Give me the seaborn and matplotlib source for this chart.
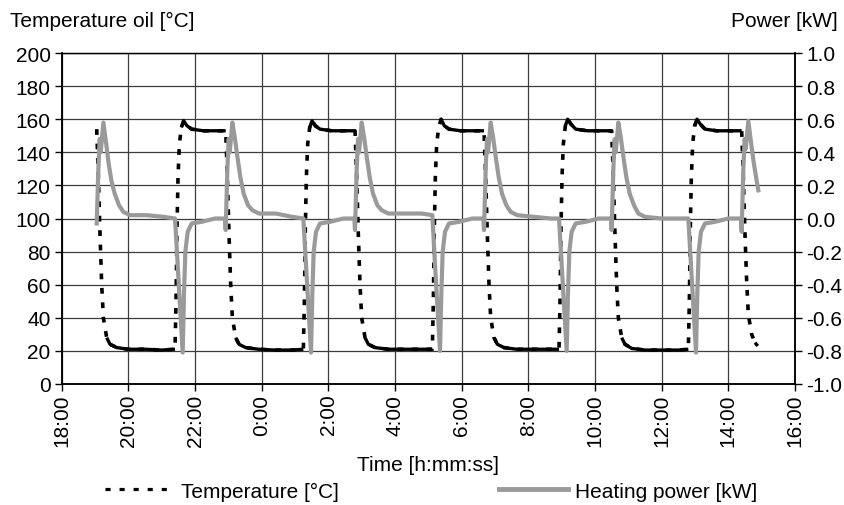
import numpy as np
import pandas as pd
import matplotlib
matplotlib.use('Agg')
import matplotlib.pyplot as plt
import seaborn as sns
from matplotlib.lines import Line2D

# ------------------------------
# Data (hours counted from midnight of day 1, so 0:00 next day = 24)
# ------------------------------
temp_time = [
    19.05, 19.10, 19.15, 19.20, 19.25, 19.35, 19.45, 19.65, 20.00, 20.50, 21.00, 21.40,
    21.43, 21.46, 21.49, 21.53, 21.59, 21.66, 21.76, 21.90, 22.25, 22.60, 22.92,
    22.97, 23.02, 23.07, 23.12, 23.22, 23.32, 23.52, 23.90, 24.40, 24.90, 25.25,
    25.28, 25.31, 25.34, 25.38, 25.44, 25.51, 25.61, 25.75, 26.10, 26.45, 26.80,
    26.85, 26.90, 26.95, 27.00, 27.10, 27.20, 27.40, 27.80, 28.30, 28.80, 29.12,
    29.15, 29.18, 29.21, 29.25, 29.31, 29.38, 29.48, 29.62, 29.97, 30.32, 30.67,
    30.72, 30.77, 30.82, 30.87, 30.97, 31.07, 31.27, 31.65, 32.15, 32.60, 32.92,
    32.95, 32.98, 33.01, 33.05, 33.11, 33.18, 33.28, 33.42, 33.77, 34.12, 34.50,
    34.55, 34.60, 34.65, 34.70, 34.80, 34.90, 35.10, 35.50, 36.00, 36.50, 36.80,
    36.83, 36.86, 36.89, 36.93, 36.99, 37.06, 37.16, 37.30, 37.65, 38.00, 38.40,
    38.45, 38.50, 38.55, 38.60, 38.70, 38.80, 38.88,
]
temp_values = [
    154, 125, 90, 60, 40, 28, 24, 22, 21, 21, 20.5, 21,
    50, 95, 125, 145, 155, 159, 156, 154, 153, 153, 153,
    125, 90, 60, 40, 28, 24, 22, 21, 20.5, 20.5, 21,
    50, 95, 125, 145, 155, 159, 156, 154, 153, 153, 153,
    125, 90, 60, 40, 28, 24, 22, 21, 21, 21, 21,
    50, 95, 125, 145, 155, 160, 156, 154, 153, 153, 153,
    125, 90, 60, 40, 28, 24, 22, 21, 21, 21, 21,
    50, 95, 125, 145, 156, 160, 157, 154, 153, 153, 153,
    125, 90, 60, 40, 28, 24, 21.5, 20.5, 20.5, 20.5, 21,
    50, 95, 125, 145, 156, 160, 157, 154, 153, 153, 153,
    125, 90, 62, 42, 30, 25, 23,
]

power_time = [
    19.05, 19.10, 19.14, 19.17, 19.25, 19.33, 19.41, 19.49, 19.59, 19.72, 19.85, 20.05, 20.55, 21.05,
    21.40, 21.48, 21.56, 21.63, 21.67, 21.71, 21.78, 21.90, 22.20, 22.60, 22.90,
    22.92, 22.97, 23.01, 23.04, 23.12, 23.20, 23.28, 23.36, 23.46, 23.59, 23.72, 23.92, 24.42, 24.92,
    25.25, 25.33, 25.41, 25.48, 25.52, 25.56, 25.63, 25.75, 26.05, 26.45, 26.78,
    26.80, 26.85, 26.89, 26.92, 27.00, 27.08, 27.16, 27.24, 27.34, 27.47, 27.60, 27.80, 28.30, 28.80,
    29.12, 29.20, 29.28, 29.35, 29.39, 29.43, 29.50, 29.62, 29.92, 30.32, 30.65,
    30.67, 30.72, 30.76, 30.79, 30.87, 30.95, 31.03, 31.11, 31.21, 31.34, 31.47, 31.67, 32.17, 32.67,
    32.92, 33.00, 33.08, 33.15, 33.19, 33.23, 33.30, 33.42, 33.72, 34.12, 34.48,
    34.50, 34.55, 34.59, 34.62, 34.70, 34.78, 34.86, 34.94, 35.04, 35.17, 35.30, 35.50, 36.00, 36.50,
    36.80, 36.88, 36.96, 37.03, 37.07, 37.11, 37.18, 37.30, 37.60, 38.00, 38.38,
    38.40, 38.45, 38.49, 38.52, 38.60, 38.68, 38.76, 38.84, 38.90,
]
power_values = [
    -0.03, 0.30, 0.48, 0.40, 0.58, 0.46, 0.33, 0.23, 0.15, 0.08, 0.04, 0.02, 0.02, 0.01,
    0.00, -0.28, -0.56, -0.81, -0.45, -0.20, -0.08, -0.03, -0.02, 0.00, 0.00,
    -0.07, 0.30, 0.48, 0.40, 0.58, 0.48, 0.36, 0.25, 0.15, 0.08, 0.05, 0.03, 0.03, 0.01,
    0.00, -0.28, -0.56, -0.81, -0.45, -0.20, -0.08, -0.03, -0.02, 0.00, 0.00,
    -0.07, 0.30, 0.48, 0.40, 0.58, 0.48, 0.36, 0.25, 0.15, 0.08, 0.05, 0.03, 0.03, 0.03,
    0.02, -0.28, -0.56, -0.80, -0.45, -0.20, -0.08, -0.03, -0.02, 0.00, 0.00,
    -0.07, 0.30, 0.48, 0.40, 0.58, 0.48, 0.36, 0.25, 0.15, 0.08, 0.04, 0.02, 0.01, 0.00,
    0.00, -0.28, -0.56, -0.80, -0.45, -0.20, -0.08, -0.03, -0.02, 0.00, 0.00,
    -0.07, 0.30, 0.48, 0.40, 0.58, 0.48, 0.36, 0.25, 0.15, 0.08, 0.03, 0.01, 0.00, 0.00,
    0.00, -0.28, -0.56, -0.81, -0.45, -0.20, -0.08, -0.03, -0.02, 0.00, 0.00,
    -0.08, 0.30, 0.48, 0.42, 0.59, 0.46, 0.34, 0.24, 0.17,
]

x_tick_labels = ['18:00', '20:00', '22:00', '0:00', '2:00', '4:00', '6:00',
                 '8:00', '10:00', '12:00', '14:00', '16:00']
temp_tick_labels = ['0', '20', '40', '60', '80', '100', '120', '140', '160', '180', '200']
power_tick_labels = ['-1.0', '-0.8', '-0.6', '-0.4', '-0.2', '0.0',
                     '0.2', '0.4', '0.6', '0.8', '1.0']

df_temp = pd.DataFrame({'time': temp_time, 'temp': temp_values})
df_power = pd.DataFrame({'time': power_time, 'power': power_values})

# ------------------------------
# Style
# ------------------------------
plt.rcParams['font.family'] = ['Liberation Sans', 'DejaVu Sans']
plt.rcParams['font.size'] = 15
plt.rcParams['axes.unicode_minus'] = False

TEMP_DASH = (0, (1.6, 2.4))
GRAY = '#9a9a9a'

fig = plt.figure(figsize=(8.45, 5.06), dpi=100)
ax = fig.add_axes([61.7 / 845, 1 - 385 / 506, (795 - 61.7) / 845, (385 - 54) / 506])

# temperature: dashed, but flat stretches look solid in the original (dense samples)
sns.lineplot(data=df_temp, x='time', y='temp', ax=ax, color='black', lw=2.6,
             linestyle=TEMP_DASH)
t_arr = df_temp['temp'].to_numpy()
flat = np.abs(np.diff(t_arr)) < 5
keep = np.zeros(len(t_arr), dtype=bool)
keep[:-1] |= flat
keep[1:] |= flat
ax.plot(df_temp['time'], np.where(keep, t_arr, np.nan), color='black', lw=2.4,
        solid_capstyle='butt')

ax2 = ax.twinx()
sns.lineplot(data=df_power, x='time', y='power', ax=ax2, color=GRAY, lw=3.0)

# ------------------------------
# Axes
# ------------------------------
ax.set_xlim(18, 40)
ax.set_ylim(0, 200)
ax2.set_ylim(-1, 1)

ax.set_xticks(np.arange(18, 41, 2))
ax.set_xticklabels(x_tick_labels, rotation=90)
ax.set_yticks(np.arange(0, 201, 20))
ax.set_yticklabels(temp_tick_labels)
ax2.set_yticks(np.linspace(-1, 1, 11))
ax2.set_yticklabels(power_tick_labels)

ax.grid(True, color='#3c3c3c', lw=0.9)
ax2.grid(False)
ax.set_axisbelow(True)

for a in (ax, ax2):
    for s in a.spines.values():
        s.set_color('black')
        s.set_linewidth(1.1)
    a.spines['top'].set_linewidth(0.9)

ax.tick_params(axis='y', direction='out', length=5, width=1, pad=3, labelsize=15,
               colors='black')
ax.tick_params(axis='x', direction='out', length=5, width=1, pad=2, labelsize=15,
               colors='black')
ax2.tick_params(axis='y', direction='out', length=5, width=1, pad=3, labelsize=15,
                colors='black')

ax.set_ylabel('')
ax2.set_ylabel('')
ax.set_xlabel('Time [h:mm:ss]', fontsize=15, labelpad=6)

fig.text(10 / 845, 1 - 27 / 506, 'Temperature oil [°C]', fontsize=15,
         ha='left', va='baseline')
fig.text(838 / 845, 1 - 27 / 506, 'Power [kW]', fontsize=15,
         ha='right', va='baseline')

handles = [Line2D([], [], color='black', lw=2.3, linestyle=(0, (1.6, 2.8))),
           Line2D([], [], color=GRAY, lw=3.5)]
fig.legend(handles, ['Temperature [°C]', 'Heating power [kW]'], loc='center',
           bbox_to_anchor=(431 / 845, 1 - 492 / 506), ncol=2, frameon=False,
           fontsize=15, handlelength=3.3, handletextpad=0.35, columnspacing=7.7)

fig.savefig('out.png', dpi=100)
